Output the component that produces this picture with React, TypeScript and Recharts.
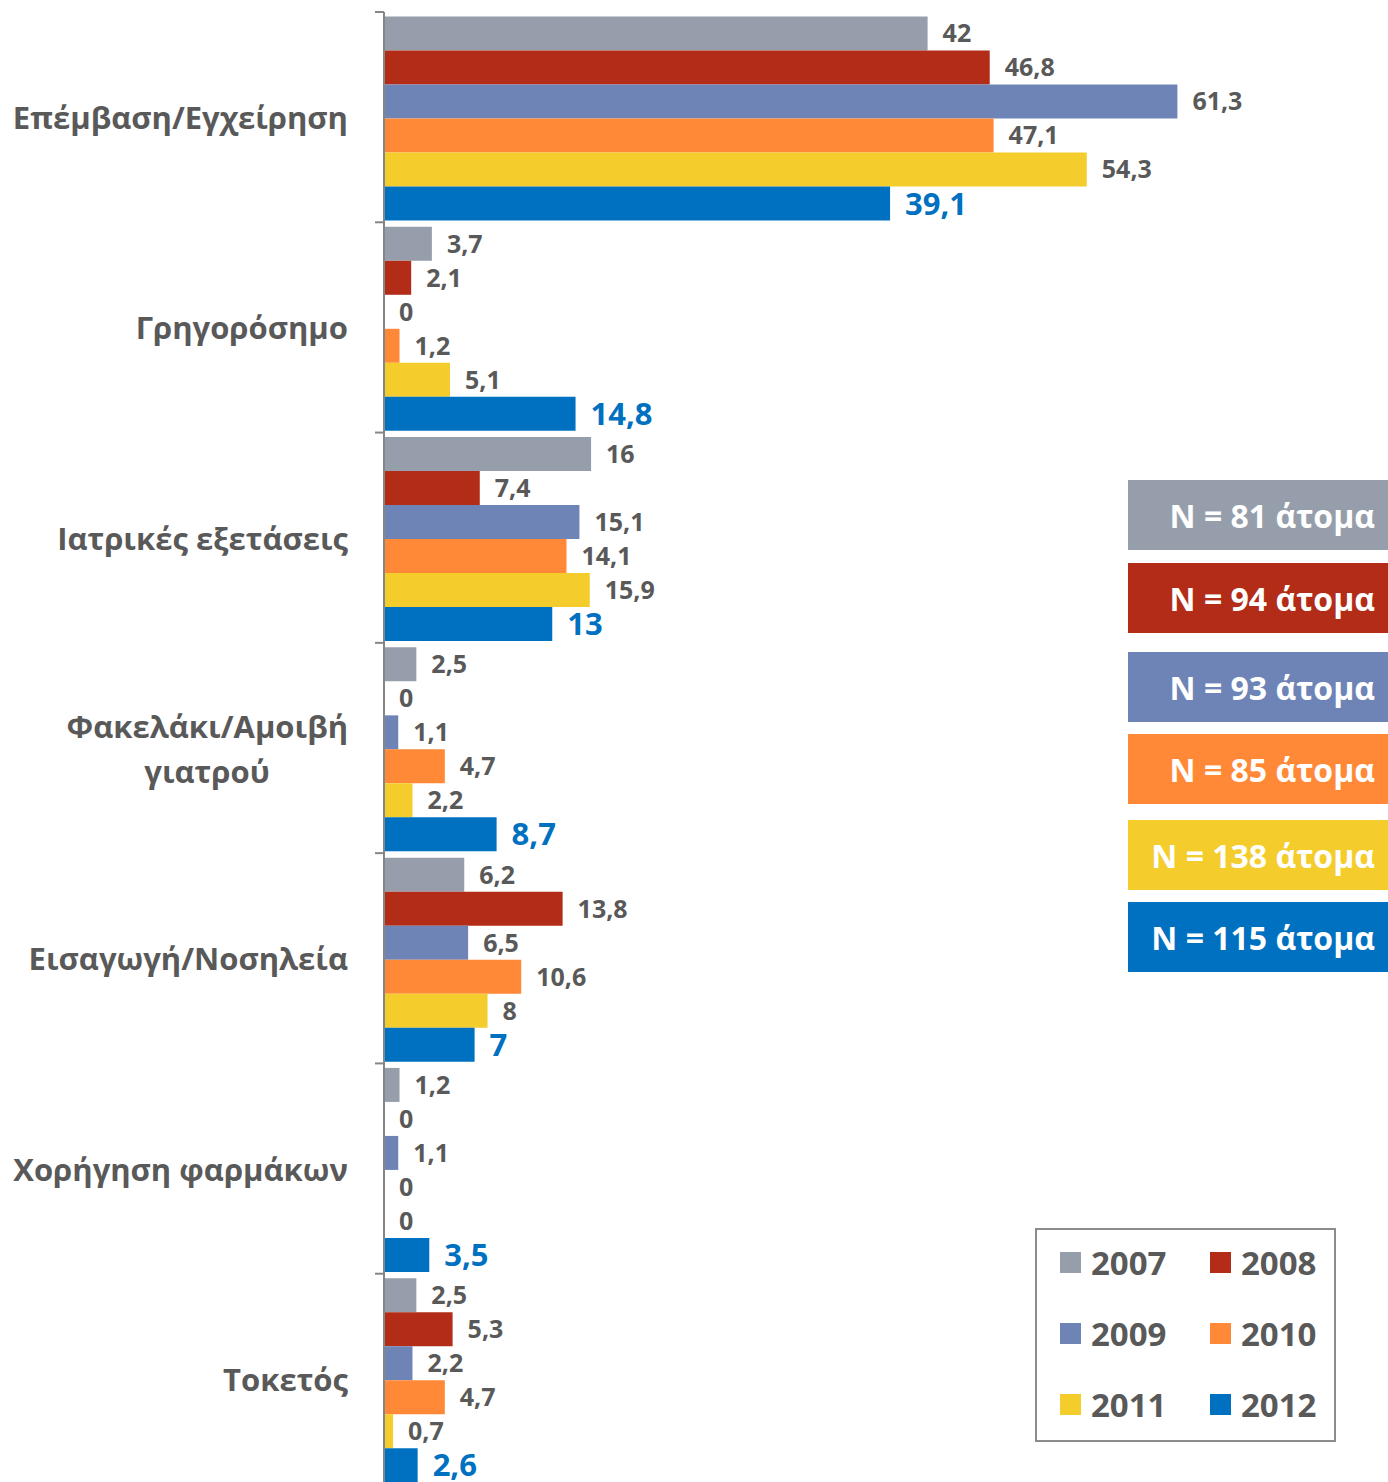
import React from 'react';
import { BarChart, Bar, XAxis, YAxis, LabelList } from 'recharts';

const categories = [
  'Επέμβαση/Εγχείρηση',
  'Γρηγορόσημο',
  'Ιατρικές εξετάσεις',
  'Φακελάκι/Αμοιβή γιατρού',
  'Εισαγωγή/Νοσηλεία',
  'Χορήγηση φαρμάκων',
  'Τοκετός',
];

const years = ['2007', '2008', '2009', '2010', '2011', '2012'];

const v2007 = [42, 3.7, 16, 2.5, 6.2, 1.2, 2.5];
const v2008 = [46.8, 2.1, 7.4, 0, 13.8, 0, 5.3];
const v2009 = [61.3, 0, 15.1, 1.1, 6.5, 1.1, 2.2];
const v2010 = [47.1, 1.2, 14.1, 4.7, 10.6, 0, 4.7];
const v2011 = [54.3, 5.1, 15.9, 2.2, 8, 0, 0.7];
const v2012 = [39.1, 14.8, 13, 8.7, 7, 3.5, 2.6];

const sampleSizes = ['N = 81 άτομα', 'N = 94 άτομα', 'N = 93 άτομα', 'N = 85 άτομα', 'N = 138 άτομα', 'N = 115 άτομα'];

const colors = ['#969EAB', '#B22C17', '#6E84B6', '#FF8937', '#F4CD2D', '#0070C0'];

const seriesValues = [v2007, v2008, v2009, v2010, v2011, v2012];

const data = categories.map((c, i) => {
  const row: Record<string, string | number> = { category: c };
  years.forEach((y, j) => {
    row[y] = seriesValues[j][i];
  });
  return row;
});

const FONT = '"Open Sans", "Noto Sans", sans-serif';
const TEXT_GRAY = '#595959';
const BAND = 210.3;

const fmt = (v: any) => String(v).replace('.', ',');

function CategoryTick(props: any) {
  const { y, payload } = props;
  const label: string = payload.value;
  const top = y - BAND / 2;
  const tick = <line x1={375} x2={384} y1={top} y2={top} stroke="#868686" strokeWidth={2} />;
  const textProps = { fontFamily: FONT, fontWeight: 700, fontSize: 31, fill: TEXT_GRAY, dominantBaseline: 'central' as const };
  if (label === 'Φακελάκι/Αμοιβή γιατρού') {
    return (
      <g>
        {tick}
        <text x={348} y={y - 22} textAnchor="end" {...textProps}>
          Φακελάκι/Αμοιβή
        </text>
        <text x={207} y={y + 23} textAnchor="middle" {...textProps}>
          γιατρού
        </text>
      </g>
    );
  }
  return (
    <g>
      {tick}
      <text x={348} y={y} textAnchor="end" {...textProps}>
        {label}
      </text>
    </g>
  );
}

export default function App() {
  return (
    <div style={{ position: 'relative', width: 1388, height: 1482, overflow: 'hidden', background: '#fff' }}>
      <style>{'body{margin:0}'}</style>
      <BarChart
        width={1388}
        height={1484}
        data={data}
        layout="vertical"
        margin={{ top: 12, right: 98, bottom: 0, left: 0 }}
        barCategoryGap={4.5}
        barGap={0}
      >
        <XAxis type="number" domain={[0, 70]} hide />
        <YAxis
          type="category"
          dataKey="category"
          width={384}
          axisLine={{ stroke: '#868686', strokeWidth: 2 }}
          tickLine={false}
          tick={<CategoryTick />}
          interval={0}
        />
        {years.map((y, j) => (
          <Bar key={y} dataKey={y} fill={colors[j]} minPointSize={0.01} isAnimationActive={false}>
            <LabelList
              dataKey={y}
              position="right"
              offset={15}
              formatter={fmt}
              fontFamily={FONT}
              fontWeight={700}
              fontSize={j === 5 ? 31 : 25}
              fill={j === 5 ? '#0070C0' : TEXT_GRAY}
            />
          </Bar>
        ))}
      </BarChart>

      {/* sample size boxes */}
      {sampleSizes.map((s, j) => {
        const tops = [480, 563, 652, 734, 820, 902];
        return (
          <div
            key={s}
            style={{
              position: 'absolute',
              left: 1128,
              top: tops[j],
              width: 260,
              height: 70,
              background: colors[j],
              color: '#fff',
              fontFamily: FONT,
              fontWeight: 700,
              fontSize: 32,
              display: 'flex',
              alignItems: 'center',
              justifyContent: 'flex-end',
              paddingRight: 13,
              boxSizing: 'border-box',
              whiteSpace: 'nowrap',
            }}
          >
            {s}
          </div>
        );
      })}

      {/* year legend */}
      <div
        style={{
          position: 'absolute',
          left: 1035,
          top: 1228,
          width: 301,
          height: 214,
          border: '2px solid #8C8C8C',
          boxSizing: 'border-box',
        }}
      >
        {years.map((y, j) => {
          const col = j % 2;
          const row = Math.floor(j / 2);
          return (
            <div
              key={y}
              style={{
                position: 'absolute',
                left: 23 + col * 150,
                top: 12 + row * 71,
                height: 40,
                display: 'flex',
                alignItems: 'center',
                fontFamily: FONT,
                fontWeight: 700,
                fontSize: 33,
                color: TEXT_GRAY,
              }}
            >
              <span style={{ display: 'inline-block', width: 21, height: 21, background: colors[j], marginRight: 10 }} />
              {y}
            </div>
          );
        })}
      </div>
    </div>
  );
}
